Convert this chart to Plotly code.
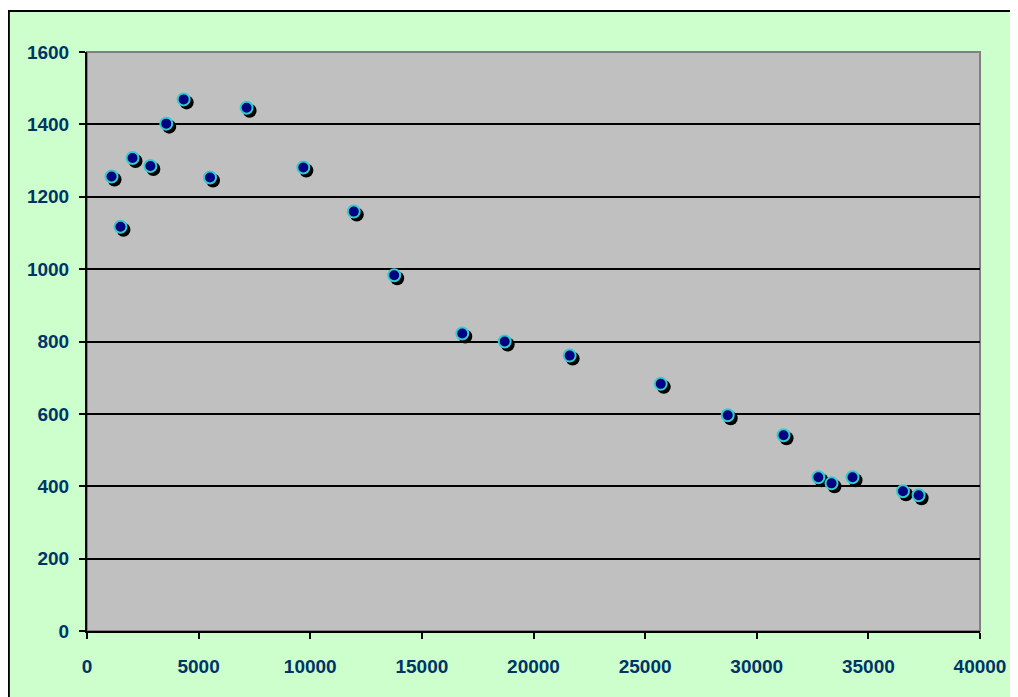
import plotly.graph_objects as go

# Data
x_vals = [1100, 1500, 2040, 2840, 3550, 4330, 5510, 7150, 9690, 11950, 13760,
          16810, 18710, 21620, 25700, 28700, 31200, 32760, 33350, 34290, 36550, 37250]
y_vals = [1256, 1117, 1307, 1285, 1402, 1469, 1253, 1446, 1281, 1159, 983,
          822, 800, 761, 683, 596, 541, 425, 408, 425, 386, 375]
x_ticks = [0, 5000, 10000, 15000, 20000, 25000, 30000, 35000, 40000]
y_ticks = [0, 200, 400, 600, 800, 1000, 1200, 1400, 1600]

# the page body adds an 8 px margin, so the figure is 8 px smaller
W, H = 1010, 689
L, R, T, B = 79, 34, 44, 66
PW, PH = W - L - R, H - T - B
X_MAX, Y_MAX = 40000, 1600

# shadow offset (3 px) converted to data units
dx = 3 * X_MAX / PW
dy = 3 * Y_MAX / PH


def px_x(p):
    return (p - L) / PW


def px_y(p):
    return (H - B - p) / PH


FONT = "Liberation Sans, Arial, sans-serif"
tick_font = dict(family=FONT, size=19, color="#003366", weight="bold")

fig = go.Figure()
fig.add_trace(go.Scatter(
    x=[v + dx for v in x_vals], y=[v - dy for v in y_vals], mode="markers",
    marker=dict(size=14, color="black", line=dict(width=0)),
    hoverinfo="skip", showlegend=False))
fig.add_trace(go.Scatter(
    x=x_vals, y=y_vals, mode="markers",
    marker=dict(size=12, color="#000080", line=dict(width=2, color="#33CCCC")),
    showlegend=False))

shapes = [
    # white strip above the chart border
    dict(type="rect", xref="paper", yref="paper", x0=px_x(-5), x1=px_x(W + 5),
         y0=px_y(2), y1=px_y(-5), fillcolor="white", line=dict(width=0), layer="below"),
    # black chart border lines (top and left)
    dict(type="line", xref="paper", yref="paper", x0=px_x(-1), x1=px_x(W + 5),
         y0=px_y(3), y1=px_y(3), line=dict(color="black", width=2), layer="below"),
    dict(type="line", xref="paper", yref="paper", x0=px_x(0.5), x1=px_x(0.5),
         y0=px_y(2), y1=px_y(H + 5), line=dict(color="black", width=2), layer="below"),
    # grey plot-area border
    dict(type="rect", xref="paper", yref="paper", x0=0, x1=1, y0=0, y1=1,
         line=dict(color="#808080", width=2), layer="below"),
]

fig.update_layout(
    width=W, height=H,
    margin=dict(l=L, r=R, t=T, b=B),
    paper_bgcolor="#CCFFCC",
    plot_bgcolor="#C0C0C0",
    shapes=shapes,
    showlegend=False,
    font=dict(family=FONT, color="#003366"),
)
fig.update_xaxes(
    range=[0, X_MAX], tickvals=x_ticks, ticktext=[str(v) for v in x_ticks],
    showgrid=False, zeroline=False,
    showline=True, linecolor="black", linewidth=2,
    ticks="outside", ticklen=6, tickwidth=1.5, tickcolor="black",
    tickfont=tick_font, ticklabelstandoff=11,
)
fig.update_yaxes(
    range=[0, Y_MAX], tickvals=y_ticks, ticktext=[str(v) for v in y_ticks],
    showgrid=True, gridcolor="black", gridwidth=1.5, zeroline=False,
    showline=True, linecolor="black", linewidth=2,
    ticks="outside", ticklen=6, tickwidth=1.5, tickcolor="black",
    tickfont=tick_font, ticklabelstandoff=6,
)

fig.write_html("out.html")
